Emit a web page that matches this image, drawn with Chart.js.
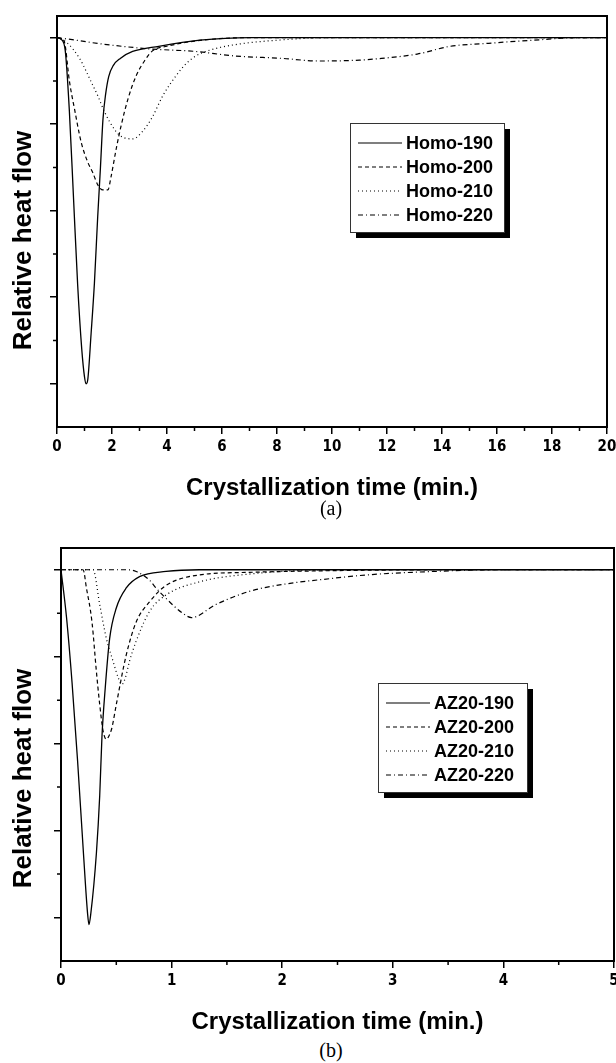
<!DOCTYPE html>
<html>
<head>
<meta charset="utf-8">
<script src="https://cdn.jsdelivr.net/npm/chart.js@4.4.1/dist/chart.umd.min.js"></script>
<style>
  body { margin: 0; background: #fff; width: 616px; height: 1063px; position: relative; overflow: hidden; }
  canvas { position: absolute; left: 0; }
  #homo { top: 0; }
  #az20 { top: 520px; }
  .cap { position: absolute; left: 281px; width: 100px; text-align: center; line-height: 24px;
         font-family: 'Liberation Serif', 'Times New Roman', serif; font-size: 20px; color: #000; }
</style>
</head>
<body>
<canvas id="homo" width="616" height="500"></canvas>
<canvas id="az20" width="616" height="514"></canvas>
<div class="cap" style="top:496px">(a)</div>
<div class="cap" style="top:1038px">(b)</div>
<script>
// (a) homopolymer isotherms: time in min, relative heat flow
const homoTime190 = [0, 0.15, 0.3, 0.45, 0.6, 0.75, 0.9, 1.0, 1.06, 1.12, 1.24, 1.36, 1.48, 1.58, 1.67, 1.77, 1.88, 2.05, 2.3, 2.75, 3.7, 5.2, 7, 10, 20];
const homoFlow190 = [0, -0.02, -0.15, -0.85, -1.85, -2.85, -3.6, -3.92, -4.0, -3.95, -3.42, -2.84, -2.07, -1.5, -0.95, -0.65, -0.45, -0.32, -0.24, -0.16, -0.1, -0.03, 0, 0, 0];
const homoTime200 = [0, 0.15, 0.27, 0.45, 0.64, 0.88, 1.12, 1.3, 1.48, 1.67, 1.85, 1.97, 2.15, 2.33, 2.58, 2.88, 3.18, 3.48, 4, 5, 7, 20];
const homoFlow200 = [0, -0.01, -0.05, -0.5, -0.83, -1.21, -1.44, -1.56, -1.7, -1.76, -1.76, -1.6, -1.29, -1.02, -0.71, -0.44, -0.27, -0.15, -0.1, -0.04, 0, 0];
const homoTime210 = [0, 0.33, 0.82, 1.24, 1.48, 1.73, 2.09, 2.33, 2.76, 3.12, 3.48, 3.85, 4.33, 4.7, 5.06, 5.5, 6.5, 8, 10, 20];
const homoFlow210 = [0, -0.05, -0.24, -0.51, -0.67, -0.86, -1.06, -1.14, -1.17, -1.08, -0.91, -0.67, -0.44, -0.3, -0.21, -0.15, -0.08, -0.03, 0, 0];
const homoTime220 = [0, 0.7, 1.55, 3.36, 5.06, 6.4, 8.2, 9.5, 11, 11.8, 13.1, 14.3, 15.5, 17.3, 19.1, 20];
const homoFlow220 = [0, -0.03, -0.07, -0.13, -0.16, -0.21, -0.24, -0.27, -0.26, -0.24, -0.19, -0.1, -0.07, -0.03, 0, 0];

// (b) AZ20 isotherms
const azTime190 = [0, 0.05, 0.1, 0.15, 0.2, 0.24, 0.253, 0.27, 0.32, 0.35, 0.37, 0.4, 0.44, 0.5, 0.59, 0.71, 0.95, 1.25, 5];
const azFlow190 = [0, -0.55, -1.3, -2.2, -3.2, -3.95, -4.08, -3.95, -3.26, -2.6, -1.93, -1.36, -0.79, -0.44, -0.21, -0.08, -0.02, 0, 0];
const azTime200 = [0, 0.2, 0.23, 0.28, 0.32, 0.35, 0.38, 0.41, 0.43, 0.46, 0.5, 0.59, 0.68, 0.8, 0.95, 1.25, 1.7, 2.5, 3.5, 5];
const azFlow200 = [0, 0, -0.21, -0.6, -1.17, -1.55, -1.85, -1.95, -1.92, -1.82, -1.55, -0.98, -0.6, -0.37, -0.18, -0.06, -0.03, -0.01, 0, 0];
const azTime210 = [0, 0.29, 0.35, 0.41, 0.47, 0.52, 0.55, 0.58, 0.62, 0.68, 0.8, 0.95, 1.25, 1.7, 2.5, 5];
const azFlow210 = [0, 0, -0.4, -0.79, -1.05, -1.25, -1.32, -1.25, -1.05, -0.82, -0.48, -0.29, -0.14, -0.05, 0, 0];
const azTime220 = [0, 0.59, 0.68, 0.8, 0.86, 0.95, 1.1, 1.18, 1.4, 1.7, 2.0, 2.45, 2.76, 3.36, 3.96, 5];
const azFlow220 = [0, 0, -0.02, -0.12, -0.21, -0.33, -0.5, -0.55, -0.4, -0.25, -0.17, -0.1, -0.06, -0.02, 0, 0];

const homoLabels = ['Homo-190', 'Homo-200', 'Homo-210', 'Homo-220'];
const azLabels = ['AZ20-190', 'AZ20-200', 'AZ20-210', 'AZ20-220'];

const homoXTicks = [0, 2, 4, 6, 8, 10, 12, 14, 16, 18, 20];
const homoXMinor = [1, 3, 5, 7, 9, 11, 13, 15, 17, 19];
const azXTicks = [0, 1, 2, 3, 4, 5];
const azXMinor = [0.5, 1.5, 2.5, 3.5, 4.5];
const flowTicks = [-4, -3, -2, -1, 0];
const flowMinor = [-3.5, -2.5, -1.5, -0.5];

const dashes = [[], [4, 3], [1, 3], [5, 3, 1, 3]];
const sans = "'Liberation Sans', Arial, sans-serif";
const narrow = "'Liberation Sans Narrow', 'DejaVu Sans Condensed', 'Liberation Sans', sans-serif";

function pts(t, v) { return t.map((x, i) => ({ x: x, y: v[i] })); }

function makeSets(labels, times, flows) {
  return labels.map((lab, i) => ({
    label: lab,
    data: pts(times[i], flows[i]),
    borderColor: '#000',
    borderWidth: i == 0 ? 1.3 : 1.2,
    borderDash: dashes[i],
    pointRadius: 0,
    fill: false,
    cubicInterpolationMode: 'monotone'
  }));
}

// frame, minor ticks, rotated y title and the boxed legend with its shadow
const extras = {
  id: 'extras',
  afterDraw(chart, args, o) {
    const ctx = chart.ctx, a = chart.chartArea, sx = chart.scales.x, sy = chart.scales.y;
    ctx.save();
    ctx.strokeStyle = '#000';
    ctx.setLineDash([]);
    ctx.lineWidth = 1.5;
    ctx.beginPath();
    o.xMinor.forEach(v => { const p = sx.getPixelForValue(v); ctx.moveTo(p, a.bottom); ctx.lineTo(p, a.bottom + 4); });
    o.yMinor.forEach(v => { const p = sy.getPixelForValue(v); ctx.moveTo(a.left - 4, p); ctx.lineTo(a.left, p); });
    ctx.stroke();
    ctx.lineWidth = 2;
    ctx.strokeRect(a.left, a.top, a.right - a.left, a.bottom - a.top);

    ctx.save();
    ctx.translate(o.titleX, (a.top + a.bottom) / 2 + o.titleShift);
    ctx.rotate(-Math.PI / 2);
    ctx.fillStyle = '#000';
    ctx.font = 'bold 26px ' + sans;
    ctx.textAlign = 'center';
    ctx.textBaseline = 'middle';
    ctx.fillText(o.yTitle, 0, 0);
    ctx.restore();

    const b = o.box;
    ctx.fillStyle = '#000';
    ctx.fillRect(b.x + 6, b.y + 6, b.w, b.h);
    ctx.fillStyle = '#fff';
    ctx.fillRect(b.x, b.y, b.w, b.h);
    ctx.lineWidth = 1;
    ctx.strokeStyle = '#333';
    ctx.strokeRect(b.x + 0.5, b.y + 0.5, b.w, b.h);
    ctx.font = 'bold 18px ' + sans;
    ctx.textBaseline = 'middle';
    ctx.textAlign = 'left';
    chart.data.datasets.forEach((ds, i) => {
      const y = b.y + 20 + i * 24;
      ctx.strokeStyle = '#000';
      ctx.lineWidth = 1.2;
      ctx.setLineDash(ds.borderDash);
      ctx.beginPath();
      ctx.moveTo(b.x + 8, y);
      ctx.lineTo(b.x + 52, y);
      ctx.stroke();
      ctx.setLineDash([]);
      ctx.fillStyle = '#000';
      ctx.fillText(ds.label, b.x + 56, y + 1);
    });
    ctx.restore();
  }
};

function makeChart(id, sets, xMax, xTicks, xMinor, padTop, padRight, yWidth, box, shift) {
  return new Chart(document.getElementById(id).getContext('2d'), {
    type: 'line',
    data: { datasets: sets },
    options: {
      responsive: false,
      animation: false,
      devicePixelRatio: 1,
      layout: { padding: { top: padTop, right: padRight, left: 0, bottom: 0 } },
      plugins: {
        legend: { display: false },
        tooltip: { enabled: false },
        extras: { xMinor: xMinor, yMinor: flowMinor, yTitle: 'Relative heat flow', titleX: 24, titleShift: shift, box: box }
      },
      scales: {
        x: {
          type: 'linear', min: 0, max: xMax,
          afterBuildTicks: s => { s.ticks = xTicks.map(v => ({ value: v })); },
          // fixed axis height; the end labels may hang past the plot edges
          afterFit: s => { s.height = 73; s.paddingLeft = 0; s.paddingRight = 0; },
          grid: { display: true, drawOnChartArea: false, drawTicks: true, tickLength: 7, color: '#000', lineWidth: 1.5 },
          border: { display: false },
          ticks: { color: '#000', padding: 4, font: { family: narrow, size: 15, weight: 'bold' }, callback: v => String(v), maxRotation: 0 },
          title: { display: true, text: 'Crystallization time (min.)', color: '#000',
                   font: { family: sans, size: 24, weight: 'bold', lineHeight: 1 }, padding: { top: 5, bottom: 0 } }
        },
        y: {
          type: 'linear', min: -4.5, max: 0.25,
          afterBuildTicks: s => { s.ticks = flowTicks.map(v => ({ value: v })); },
          afterFit: s => { s.width = yWidth; s.paddingTop = 0; s.paddingBottom = 0; },
          grid: { display: true, drawOnChartArea: false, drawTicks: true, tickLength: 7, color: '#000', lineWidth: 1.5 },
          border: { display: false },
          ticks: { display: false }
        }
      }
    },
    plugins: [extras]
  });
}

makeChart('homo',
  makeSets(homoLabels, [homoTime190, homoTime200, homoTime210, homoTime220], [homoFlow190, homoFlow200, homoFlow210, homoFlow220]),
  20, homoXTicks, homoXMinor, 16, 9, 57, { x: 350, y: 123, w: 154, h: 109 }, 19);

makeChart('az20',
  makeSets(azLabels, [azTime190, azTime200, azTime210, azTime220], [azFlow190, azFlow200, azFlow210, azFlow220]),
  5, azXTicks, azXMinor, 28, 2, 61, { x: 378, y: 163, w: 149, h: 109 }, 24);
</script>
</body>
</html>
